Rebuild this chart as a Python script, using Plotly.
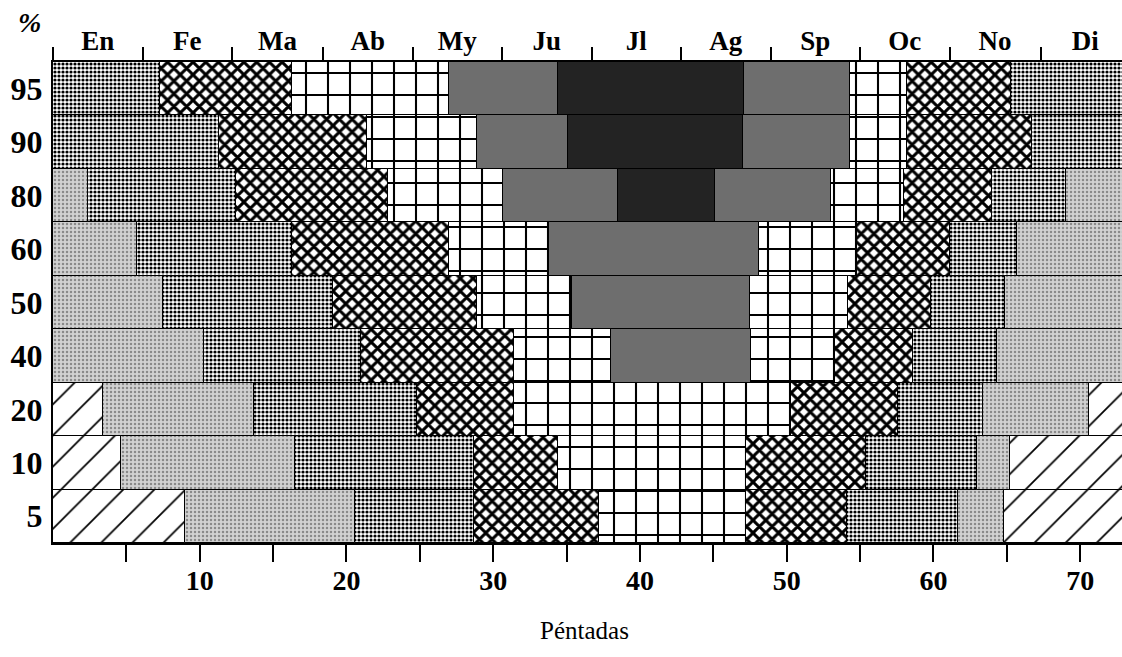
import plotly.graph_objects as go

# Percentile rows (top to bottom)
rows = ["95", "90", "80", "60", "50", "40", "20", "10", "5"]

# Class breakpoints (pentads) and class codes for each percentile row
p95_breaks = [0, 7.3, 16.3, 27.0, 34.4, 47.1, 54.3, 58.2, 65.3, 73]
p95_class = ["D", "X", "S", "G", "K", "G", "S", "X", "D"]

p90_breaks = [0, 11.3, 21.4, 28.9, 35.1, 47.0, 54.3, 58.2, 66.7, 73]
p90_class = ["D", "X", "S", "G", "K", "G", "S", "X", "D"]

p80_breaks = [0, 2.4, 12.5, 22.8, 30.7, 38.5, 45.1, 53.0, 58.0, 64.0, 69.0, 73]
p80_class = ["B", "D", "X", "S", "G", "K", "G", "S", "X", "D", "B"]

p60_breaks = [0, 5.7, 16.3, 27.0, 33.8, 48.1, 54.8, 61.1, 65.7, 73]
p60_class = ["B", "D", "X", "S", "G", "S", "X", "D", "B"]

p50_breaks = [0, 7.5, 19.1, 28.9, 35.4, 47.5, 54.2, 59.8, 64.9, 73]
p50_class = ["B", "D", "X", "S", "G", "S", "X", "D", "B"]

p40_breaks = [0, 10.3, 21.0, 31.4, 38.0, 47.6, 53.3, 58.6, 64.3, 73]
p40_class = ["B", "D", "X", "S", "G", "S", "X", "D", "B"]

p20_breaks = [0, 3.4, 13.7, 24.8, 31.4, 50.3, 57.6, 63.4, 70.6, 73]
p20_class = ["A", "B", "D", "X", "S", "X", "D", "B", "A"]

p10_breaks = [0, 4.6, 16.5, 28.7, 34.4, 47.2, 55.4, 63.0, 65.2, 73]
p10_class = ["A", "B", "D", "X", "S", "X", "D", "B", "A"]

p5_breaks = [0, 9.0, 20.6, 28.7, 37.2, 47.2, 54.1, 61.7, 64.8, 73]
p5_class = ["A", "B", "D", "X", "S", "X", "D", "B", "A"]

row_breaks = [p95_breaks, p90_breaks, p80_breaks, p60_breaks, p50_breaks,
              p40_breaks, p20_breaks, p10_breaks, p5_breaks]
row_classes = [p95_class, p90_class, p80_class, p60_class, p50_class,
               p40_class, p20_class, p10_class, p5_class]

# Month boundaries (pentads) and labels for the top axis
month_bounds = [0, 6.1, 12.2, 18.4, 24.5, 30.6, 36.7, 42.8, 48.9, 55.0, 61.1, 67.3, 73.4]
month_labels = ["En", "Fe", "Ma", "Ab", "My", "Ju", "Jl", "Ag", "Sp", "Oc", "No", "Di"]

# Bottom axis ticks
x_tickvals = [5, 10, 15, 20, 25, 30, 35, 40, 45, 50, 55, 60, 65, 70]
x_ticktext = ["", "10", "", "20", "", "30", "", "40", "", "50", "", "60", "", "70"]

# Visual styles for each class
styles = {
    "A": dict(color="white", pattern=dict(shape="/", fgcolor="black", bgcolor="white",
                                          size=22, solidity=0.08, fillmode="replace")),
    "B": dict(color="#d0d0d0", pattern=dict(shape=".", fgcolor="#8a8a8a", bgcolor="#d2d2d2",
                                            size=4, solidity=0.3, fillmode="replace")),
    "D": dict(color="#888888", pattern=dict(shape=".", fgcolor="black", bgcolor="white",
                                            size=4, solidity=0.5, fillmode="replace")),
    "X": dict(color="#777777", pattern=dict(shape="x", fgcolor="black", bgcolor="white",
                                            size=9, solidity=0.55, fillmode="replace")),
    "S": dict(color="white", pattern=dict(shape="+", fgcolor="black", bgcolor="white",
                                          size=22, solidity=0.18, fillmode="replace")),
    "G": dict(color="#6e6e6e", pattern=None),
    "K": dict(color="#232323", pattern=None),
}

fig = go.Figure()

for code in ["A", "B", "D", "X", "S", "G", "K"]:
    ys, bases, widths = [], [], []
    for r, brks, cls in zip(rows, row_breaks, row_classes):
        for i, c in enumerate(cls):
            if c == code:
                ys.append(r)
                bases.append(brks[i])
                widths.append(brks[i + 1] - brks[i])
    st = styles[code]
    marker = dict(color=st["color"], line=dict(color="black", width=1))
    if st["pattern"] is not None:
        marker["pattern"] = st["pattern"]
    fig.add_trace(go.Bar(y=ys, x=widths, base=bases, orientation="h",
                         marker=marker, showlegend=False, hoverinfo="skip"))

# invisible trace bound to the top (month) axis
month_mids = [(month_bounds[i] + month_bounds[i + 1]) / 2 for i in range(12)]
fig.add_trace(go.Scatter(x=month_mids, y=[rows[0]] * 12, xaxis="x2", mode="markers",
                         marker=dict(opacity=0), showlegend=False, hoverinfo="skip"))

serif = "Liberation Serif"
xr = [0, 72.85]

fig.update_layout(
    width=1122, height=657,
    margin=dict(l=53, r=0, t=62, b=114),
    paper_bgcolor="white", plot_bgcolor="white",
    barmode="overlay", bargap=0,
    xaxis=dict(range=xr, tickmode="array", tickvals=x_tickvals, ticktext=x_ticktext,
               ticks="outside", ticklen=17, tickwidth=2, tickcolor="black",
               showline=True, linecolor="black", linewidth=2, showgrid=False,
               zeroline=False, ticklabelstandoff=-6,
               tickfont=dict(family=serif, size=28, color="black", weight="bold")),
    xaxis2=dict(range=xr, overlaying="x", side="top", tickmode="array",
                tickvals=month_mids, ticktext=month_labels, ticks="",
                showline=True, linecolor="black", linewidth=2, showgrid=False,
                zeroline=False, ticklabelstandoff=-1,
                minor=dict(tickmode="array", tickvals=month_bounds[:-1], ticks="outside",
                           ticklen=13, tickwidth=2, tickcolor="black", showgrid=False),
                tickfont=dict(family=serif, size=27, color="black", weight="bold")),
    yaxis=dict(type="category", categoryorder="array", categoryarray=rows,
               range=[8.5, -0.5], ticks="", showline=True, linecolor="black",
               linewidth=2, showgrid=False, zeroline=False, ticklabelstandoff=2,
               tickfont=dict(family=serif, size=32, color="black", weight="bold")),
    annotations=[
        dict(text="Péntadas", xref="paper", yref="paper", x=0.497, y=-0.181,
             xanchor="center", yanchor="middle", showarrow=False,
             font=dict(family=serif, size=25, color="black")),
        dict(text="%", xref="paper", yref="paper", x=-0.022, y=1.083,
             xanchor="center", yanchor="middle", showarrow=False,
             font=dict(family=serif, size=28, color="black", style="italic", weight="bold")),
    ],
)

fig.write_html("out.html")
